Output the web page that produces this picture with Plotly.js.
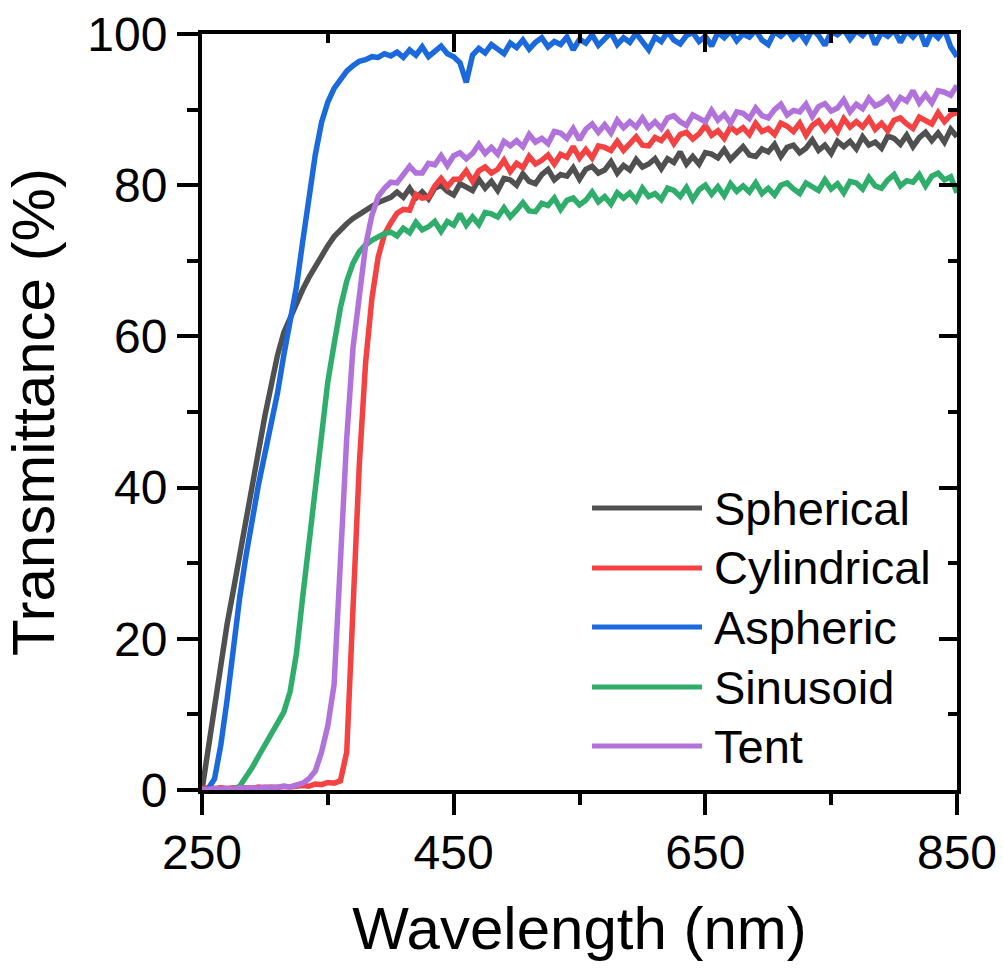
<!DOCTYPE html>
<html>
<head>
<meta charset="utf-8">
<script src="https://cdn.plot.ly/plotly-3.0.1.min.js"></script>
<style>html,body{margin:0;padding:0;background:#fff;}#chart{width:1003px;height:971px;}</style>
</head>
<body>
<div id="chart"></div>
<script>
const wavelength = [250,255,260,265,270,275,280,285,290,295,300,305,310,315,320,325,330,335,340,345,350,355,360,365,370,375,380,385,390,395,400,
405,410,415,420,425,430,435,440,445,450,455,460,465,470,475,480,485,490,495,500,
505,510,515,520,525,530,535,540,545,550,555,560,565,570,575,580,585,590,595,600,
605,610,615,620,625,630,635,640,645,650,655,660,665,670,675,680,685,690,695,700,
705,710,715,720,725,730,735,740,745,750,755,760,765,770,775,780,785,790,795,800,
805,810,815,820,825,830,835,840,845,850];

const seriesNames = ["Spherical","Cylindrical","Aspheric","Sinusoid","Tent"];
const seriesColors = ["#505050","#f44242","#1a69dd","#2fad6b","#b173db"];

const spherical = [0,5.5,11,17,22,26.5,31,36,41,45.5,49.5,53.5,57.5,60.5,62.5,64.3,66.2,67.8,69.3,70.7,72,73.2,74.1,74.9,75.6,76.2,76.7,77.2,77.7,78.1,78.4,
79.1,78.4,79.6,78.3,79.1,78.2,79.6,80.0,79.2,78.7,80.2,79.7,79.3,80.8,79.6,80.5,79.3,80.9,80.7,80.0,
81.5,80.5,80.2,81.4,82.1,80.7,81.4,81.2,82.3,80.8,82.1,82.5,81.6,82.0,83.1,81.6,82.6,82.0,83.4,82.4,
82.8,83.5,82.2,83.5,83.0,84.4,82.8,83.8,82.8,84.3,84.1,83.6,84.7,83.4,84.3,85.1,84.0,83.8,84.8,84.4,
85.4,83.8,85.0,85.3,84.3,84.9,86.0,84.6,85.3,84.2,85.8,85.1,85.8,84.8,86.4,85.3,85.7,84.9,86.5,86.2,
85.4,86.6,85.1,86.3,87.0,85.9,86.9,85.7,87.4,86.4];

const cylindrical = [0.2,0.3,0.2,0.3,0.2,0.3,0.2,0.3,0.2,0.4,0.3,0.4,0.3,0.5,0.4,0.5,0.6,0.5,0.8,0.7,1.0,0.9,1.2,5,24,43,56.5,65,70.5,73.5,75,
76.3,76.8,76.7,78.8,78.3,78.4,79.9,80.9,79.8,80.8,80.8,81.9,80.5,81.9,82.4,81.6,82.1,83.3,81.8,82.9,
82.3,83.8,82.8,83.3,84.0,82.8,84.1,83.7,85.1,83.6,84.7,83.6,85.2,85.0,84.6,85.8,84.6,85.5,86.4,85.3,
85.2,86.3,85.9,86.9,85.5,86.7,87.0,86.1,86.8,87.9,86.6,87.2,86.2,87.7,87.0,87.6,86.7,88.2,87.1,87.5,
86.7,88.2,87.8,87.1,88.2,86.6,87.9,88.5,87.3,88.3,87.1,88.8,87.7,88.4,87.7,88.8,87.4,88.2,87.2,88.6,
88.9,88.1,87.5,89.0,88.5,88.1,89.6,88.4,89.3,89.6];

const aspheric = [0,0.2,1.5,6,12,19,25.5,31,36,40.5,44.5,48.5,52.5,57.5,62,66.5,72.5,78.5,84,88.3,91,92.8,94.1,95.1,95.8,96.4,96.6,97.0,96.9,97.4,97.1,
97.6,96.9,97.9,97.2,98.3,97.0,97.8,98.4,97.4,97.0,96.2,93.6,97.2,98.1,97.5,98.6,98.0,97.4,98.8,98.2,
99.2,98.0,98.9,99.5,98.3,99.0,98.6,99.6,97.9,99.3,98.8,99.9,98.5,99.4,100.2,98.6,99.5,98.9,100.1,99.0,
97.9,99.6,99.0,100.3,99.2,98.7,99.8,100.2,99.0,99.7,98.4,100.2,99.5,100.4,99.1,100.0,99.6,100.5,99.2,98.6,
100.3,99.7,100.5,99.4,100.2,99.0,100.6,99.8,98.5,100.3,99.9,100.6,99.3,100.4,99.8,100.7,98.6,100.2,99.7,100.5,
98.9,100.4,99.6,100.6,98.4,100.3,99.5,100.6,98.3,97.0];

const sinusoid = [0,0,0,0,0,0.1,0.5,1.6,3.0,4.5,5.9,7.2,8.6,10.3,13.0,18.0,25.5,33,40,47.5,54,59,63.8,67.3,69.7,71.2,72.1,72.7,73.2,73.6,73.8,
73.3,74.3,73.7,75.1,74.1,74.5,75.2,73.9,75.2,74.7,76.2,74.7,75.8,74.8,76.4,76.2,75.8,77.0,75.8,76.7,
77.7,76.6,76.5,77.6,77.3,78.3,76.8,78.0,78.3,77.4,78.0,79.1,77.8,78.5,77.5,79.0,78.3,79.0,78.0,79.6,
78.5,78.9,78.1,79.6,79.3,78.5,79.7,78.1,79.4,80.0,78.8,79.8,78.6,80.2,79.2,79.9,79.1,80.3,78.9,79.6,
78.7,80.0,80.3,79.5,78.9,80.3,79.8,79.3,80.7,79.5,80.2,79.0,80.5,80.3,79.5,81.0,79.9,79.6,80.7,81.4,
79.9,80.6,80.4,81.4,79.9,81.2,81.6,80.7,81.1,79.0];

const tent = [0,0.1,0.2,0.1,0.2,0.1,0.3,0.2,0.3,0.2,0.4,0.3,0.4,0.5,0.4,0.6,0.9,1.5,2.5,5,8.5,14,32,46.5,58.5,65.5,72,76,78.5,79.6,80.4,
80.3,81.4,82.5,81.6,81.6,82.9,82.7,83.9,82.6,83.9,84.3,83.5,84.2,85.4,84.2,85.0,84.1,85.8,85.2,85.9,
85.1,86.7,85.7,86.2,85.5,87.1,86.9,86.2,87.5,86.0,87.4,88.1,87.0,88.0,86.9,88.6,87.6,88.4,87.7,88.9,
87.6,88.4,87.5,88.9,89.2,88.4,87.9,89.3,88.8,88.4,89.9,88.6,89.4,88.2,89.7,89.5,88.8,90.2,89.2,88.9,
90.0,90.7,89.3,89.9,89.7,90.7,89.1,90.4,90.8,89.8,90.2,91.3,89.7,90.7,90.1,91.5,90.5,90.9,91.6,90.3,
91.6,91.1,92.5,90.9,92.0,90.9,92.5,92.3,91.9,93.2];

const xTickVals = [250,450,650,850];
const xMinorVals = [350,550,750];
const yTickVals = [0,20,40,60,80,100];
const yMinorVals = [10,30,50,70,90];

const allSeries = [spherical, cylindrical, aspheric, sinusoid, tent];
const FONT = "Liberation Sans, Arial, Helvetica, sans-serif";

const traces = allSeries.map((ys, i) => ({
  type: "scatter", mode: "lines", name: seriesNames[i],
  x: wavelength, y: ys,
  line: {color: seriesColors[i], width: 5.5},
  showlegend: false, hoverinfo: "skip"
}));
traces.push({type:"scatter", mode:"lines", x:[], y:[], xaxis:"x2", yaxis:"y2", showlegend:false, hoverinfo:"skip"});

// custom legend (long line samples like the original)
const legY = [0.373, 0.2937, 0.2156, 0.1362, 0.0582];
const shapes = [];
const annotations = [];
seriesNames.forEach((n, i) => {
  shapes.push({type:"line", xref:"paper", yref:"paper", x0:0.5166, x1:0.6623, y0:legY[i], y1:legY[i],
    line:{color:seriesColors[i], width:5}});
  annotations.push({xref:"paper", yref:"paper", x:0.6755, y:legY[i], xanchor:"left", yanchor:"middle",
    text:n, showarrow:false, font:{family:FONT, size:47, color:"#000"}});
});

const axisCommon = {
  showline: true, linecolor: "#000", linewidth: 4,
  showgrid: false, zeroline: false,
  tickcolor: "#000", tickwidth: 4,
  tickfont: {family: FONT, size: 48, color: "#000"}
};

const layout = {
  width: 1003, height: 971,
  margin: {l: 202, r: 46, t: 34, b: 181},
  paper_bgcolor: "#fff", plot_bgcolor: "#fff",
  showlegend: false,
  xaxis: Object.assign({}, axisCommon, {
    range: [250, 850], tickmode: "array", tickvals: xTickVals, ticktext: xTickVals.map(String),
    ticks: "outside", ticklen: 21, ticklabelstandoff: -4,
    minor: {tickmode:"array", tickvals:xMinorVals, ticks:"outside", ticklen: 11, tickwidth: 4, tickcolor:"#000"},
    title: {text: "Wavelength (nm)", font: {family: FONT, size: 60, color: "#000"}, standoff: 30}
  }),
  yaxis: Object.assign({}, axisCommon, {
    range: [0, 100], tickmode: "array", tickvals: yTickVals, ticktext: yTickVals.map(String),
    ticks: "outside", ticklen: 21, ticklabelstandoff: 0,
    minor: {tickmode:"array", tickvals:yMinorVals, ticks:"outside", ticklen: 11, tickwidth: 4, tickcolor:"#000"},
    title: {text: "Transmittance (%)", font: {family: FONT, size: 60, color: "#000"}, standoff: 18}
  }),
  xaxis2: Object.assign({}, axisCommon, {
    overlaying: "x", side: "top", anchor: "y2", range: [250, 850],
    tickmode: "array", tickvals: xTickVals, showticklabels: false,
    ticks: "inside", ticklen: 18,
    minor: {tickmode:"array", tickvals:xMinorVals, ticks:"inside", ticklen: 9, tickwidth: 4, tickcolor:"#000"}
  }),
  yaxis2: Object.assign({}, axisCommon, {
    overlaying: "y", side: "right", anchor: "x2", range: [0, 100],
    tickmode: "array", tickvals: yTickVals, showticklabels: false,
    ticks: "inside", ticklen: 18,
    minor: {tickmode:"array", tickvals:yMinorVals, ticks:"inside", ticklen: 9, tickwidth: 4, tickcolor:"#000"}
  }),
  shapes: shapes,
  annotations: annotations
};

Plotly.newPlot("chart", traces, layout, {displayModeBar: false, staticPlot: true});
</script>
</body>
</html>
